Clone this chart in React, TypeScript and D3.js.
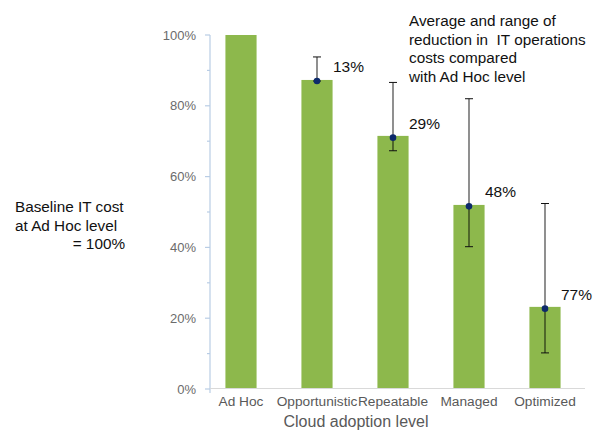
import React from "react";
import * as d3 from "d3";

const categories = ["Ad Hoc", "Opportunistic", "Repeatable", "Managed", "Optimized"];
const barValues = [100, 87.3, 71.5, 52, 23.2];
const avgValues = [null, 87, 71, 51.6, 22.7];
const rangeLow = [null, 87, 67.3, 40.2, 10.2];
const rangeHigh = [null, 93.8, 86.6, 82, 52.4];
const reductionLabels = ["", "13%", "29%", "48%", "77%"];
const yTicks = [0, 20, 40, 60, 80, 100];
const yMinorTicks = [10, 30, 50, 70, 90];
const noteLines = ["Average and range of", "reduction in  IT operations", "costs compared", "with Ad Hoc level"];
const baselineLines = ["Baseline IT cost", "at Ad Hoc level"];

const W = 593;
const H = 430;
const FONT = "'Liberation Sans', Arial, sans-serif";

export default function App() {
  const y = d3.scaleLinear().domain([0, 100]).range([389, 35]);
  const x = d3.scaleBand<string>().domain(categories).range([203, 583]).paddingInner(0.59).paddingOuter(0.295);
  const bw = x.bandwidth();
  const axisX = 210;
  return (
    <svg width={W} height={H} style={{ position: "absolute", left: 0, top: 0, background: "#fff" }} fontFamily={FONT}>
      {/* y axis */}
      <line x1={axisX} x2={axisX} y1={y(100)} y2={y(0) + 4} stroke="#b9cde5" strokeWidth={1.2} />
      {yTicks.map((t) => (
        <g key={"t" + t}>
          <line x1={axisX - 5} x2={axisX} y1={y(t)} y2={y(t)} stroke="#b9cde5" strokeWidth={1.2} />
          <text x={196} y={y(t) + 4.5} textAnchor="end" fontSize={13} fill="#6b6b6b">{t + "%"}</text>
        </g>
      ))}
      {yMinorTicks.map((t) => (
        <line key={"m" + t} x1={axisX - 3} x2={axisX} y1={y(t)} y2={y(t)} stroke="#b9cde5" strokeWidth={1.2} />
      ))}
      {/* x axis */}
      <line x1={axisX} x2={585} y1={y(0) - 0.5} y2={y(0) - 0.5} stroke="#d9d9d9" strokeWidth={1} />
      {/* bars */}
      {categories.map((c, i) => (
        <rect key={c} x={x(c)} y={y(barValues[i])} width={bw} height={y(0) - 1 - y(barValues[i])} fill="#8db84c" />
      ))}
      {/* error bars */}
      {categories.map((c, i) => {
        if (avgValues[i] == null) return null;
        const cx = (x(c) as number) + bw / 2;
        const lo = y(rangeLow[i] as number);
        const hi = y(rangeHigh[i] as number);
        return (
          <g key={"e" + c}>
            <line x1={cx} x2={cx} y1={hi} y2={lo} stroke="#000" strokeOpacity={0.55} strokeWidth={1.6} />
            <line x1={cx - 4} x2={cx + 4} y1={hi} y2={hi} stroke="#111" strokeWidth={1} />
            <line x1={cx - 4} x2={cx + 4} y1={lo} y2={lo} stroke="#111" strokeWidth={1} />
            <circle cx={cx} cy={y(avgValues[i] as number)} r={3.3} fill="#0d2a6b" />
            <text x={cx + 16} y={y(avgValues[i] as number) - 9} fontSize={15.5} fill="#111">{reductionLabels[i]}</text>
          </g>
        );
      })}
      {/* category labels */}
      {categories.map((c) => (
        <text key={"l" + c} x={(x(c) as number) + bw / 2} y={406} textAnchor="middle" fontSize={13.7} fill="#595959">{c}</text>
      ))}
      <text x={356} y={427} textAnchor="middle" fontSize={16} fill="#595959">Cloud adoption level</text>
      {/* note */}
      {noteLines.map((l, i) => (
        <text key={"n" + i} x={409} y={26 + i * 18.5} fontSize={15.3} fill="#111" style={{ whiteSpace: "pre" }}>{l}</text>
      ))}
      {baselineLines.map((l, i) => (
        <text key={"b" + i} x={15} y={212 + i * 18.5} fontSize={15.3} fill="#111">{l}</text>
      ))}
      <text x={125} y={249} textAnchor="end" fontSize={15.3} fill="#111">= 100%</text>
    </svg>
  );
}
